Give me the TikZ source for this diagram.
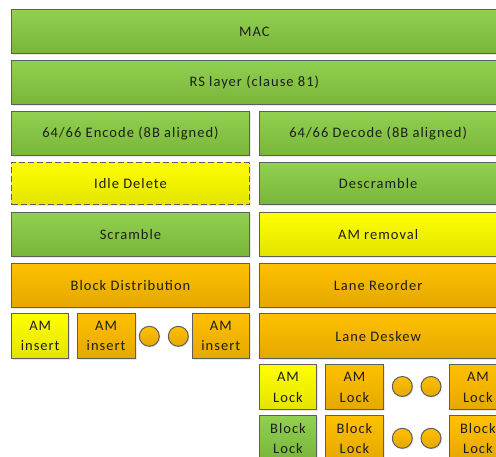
\documentclass[tikz,border=0pt]{standalone}
\usepackage{fontspec}
\setmainfont[LetterSpace=7]{Carlito}
\usetikzlibrary{shadows}
\definecolor{gtop}{HTML}{92D050}
\definecolor{gbot}{HTML}{78B53A}
\definecolor{ytop}{HTML}{FFFF00}
\definecolor{ybot}{HTML}{E3E300}
\definecolor{otop}{HTML}{FFC000}
\definecolor{obot}{HTML}{E4A800}
\definecolor{edge}{HTML}{5E5E5E}
\definecolor{txt}{HTML}{1E1E1E}
\tikzset{
  blk/.style={draw=edge, line width=1pt, inner sep=0pt, outer sep=0pt,
    text=txt, font=\fontsize{14.5}{20.5}\selectfont, align=center,
    drop shadow={opacity=0.18, shadow xshift=1.5pt, shadow yshift=-1.5pt}},
  grn/.style={blk, top color=gtop, bottom color=gbot},
  yel/.style={blk, top color=ytop, bottom color=ybot},
  org/.style={blk, top color=otop, bottom color=obot},
  dashbox/.style={dash pattern=on 6pt off 3pt},
  dot/.style={circle, draw=edge, line width=1pt, inner sep=0pt, outer sep=0pt,
    minimum size=20pt, top color=otop, bottom color=obot,
    drop shadow={opacity=0.18, shadow xshift=1.2pt, shadow yshift=-1.2pt}}
}
\newcommand{\bx}[7]{% style, name, x1, y1, x2, y2, text
  \node[#1, minimum width={(#5-#3)*1pt}, minimum height={(#6-#4)*1pt}]
    (#2) at ({(#3+#5)/2},{(#4+#6)/2}) {#7};}
\begin{document}
\begin{tikzpicture}[x=1pt, y=-1pt]
\useasboundingbox (0,0) rectangle (496,457);
\fill[white] (0,0) rectangle (496,457);
\clip (0,0) rectangle (496,457);
\bx{grn}{mac}{11.7}{9.3}{497}{54}{MAC}
\bx{grn}{rs}{11.7}{60.7}{497}{105}{RS layer (clause 81)}
\bx{grn}{enc}{11.7}{111.7}{249.3}{156}{64/66 Encode (8B aligned)}
\bx{grn}{dec}{259.3}{111.7}{497}{156}{64/66 Decode (8B aligned)}
\bx{yel,dashbox}{idle}{11.7}{162.7}{249.3}{205}{Idle Delete}
\bx{grn}{descr}{259.3}{162.7}{497}{205}{Descramble}
\bx{grn}{scr}{11.7}{212.3}{249.3}{256.7}{Scramble}
\bx{yel}{amrem}{259.3}{212.3}{497}{256.7}{AM removal}
\bx{org}{bd}{11.7}{263.3}{249.3}{307.3}{Block Distribution}
\bx{org}{lr}{259.3}{263.3}{497}{307.3}{Lane Reorder}
\bx{org}{lds}{259.3}{314}{497}{358.3}{Lane Deskew}
\bx{yel}{ami1}{11.7}{314}{68.7}{358.3}{AM\\insert}
\bx{org}{ami2}{77.3}{314}{135}{358.3}{AM\\insert}
\bx{org}{ami3}{192.3}{314}{249.3}{358.3}{AM\\insert}
\node[dot] (c1) at (149.3,336.3) {};
\node[dot] (c2) at (178.3,336.3) {};
\bx{yel}{aml1}{259.3}{365}{316.7}{410}{AM\\Lock}
\bx{org}{aml2}{325.7}{365}{383.3}{410}{AM\\Lock}
\bx{org}{aml3}{449.3}{365}{506.5}{410}{AM\\Lock}
\node[dot] (c3) at (402.3,386.5) {};
\node[dot] (c4) at (431,386.5) {};
\bx{grn}{bl1}{259.3}{415.7}{316.7}{461}{Block\\Lock}
\bx{org}{bl2}{325.7}{415.7}{383.3}{461}{Block\\Lock}
\bx{org}{bl3}{449.3}{415.7}{506.5}{461}{Block\\Lock}
\node[dot] (c5) at (402.3,438.3) {};
\node[dot] (c6) at (431,438.3) {};
\end{tikzpicture}
\end{document}
